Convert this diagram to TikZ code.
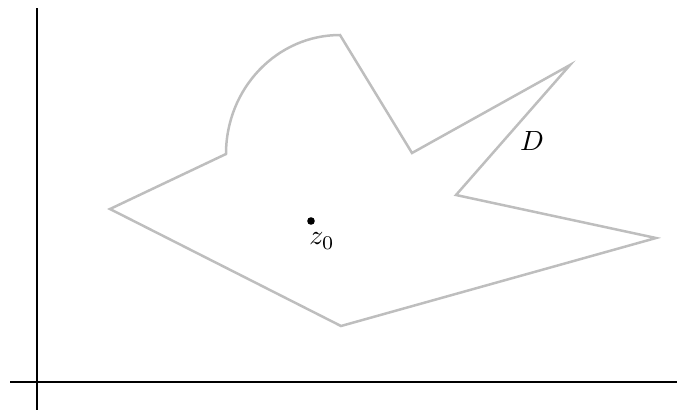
\documentclass[tikz,border=0pt]{standalone}
\definecolor{dgray}{RGB}{190,190,190}
\tikzset{region/.style={draw=dgray,line width=0.9pt,line join=miter},
  axis/.style={draw=black,line width=0.9pt}}
\begin{document}
\begin{tikzpicture}[x=0.36pt,y=-0.36pt]
\useasboundingbox (0,0) rectangle (677,410);
\draw[axis] (37,8) -- (37,410);
\draw[axis] (10,382) -- (677,382);
\draw[region] (110,209) -- (226,154) arc[start angle=180,end angle=90,x radius=114,y radius=-119]
  -- (412,153) -- (570,65) -- (456,195) -- (656,238) -- (341,326) -- cycle;
\fill (311,221) circle[radius=3.8];
\node[inner sep=0pt] (z0) at (322,241) {$z_0$};
\node[inner sep=0pt] (D) at (532,141) {$D$};
\end{tikzpicture}
\end{document}
